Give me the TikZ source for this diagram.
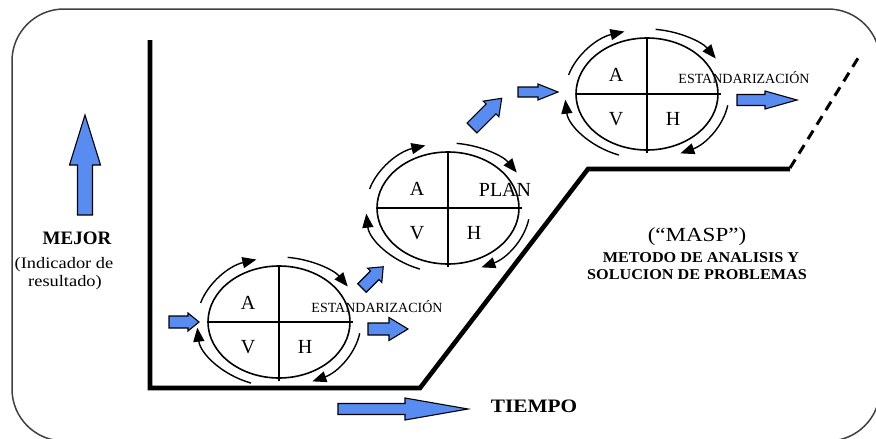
\documentclass[tikz,border=0pt]{standalone}
\usepackage{fontspec}
\setmainfont{Liberation Serif}
\usepackage{graphicx}
\usetikzlibrary{arrows.meta}
\definecolor{arrowblue}{RGB}{88,140,240}
\tikzset{
  frame/.style={draw=black!75, line width=1.5pt, rounded corners=52pt},
  axisline/.style={line width=4.6pt, line join=miter},
  futureline/.style={line width=3pt, dash pattern=on 10pt off 7pt},
  ring/.style={line width=1.6pt},
  crossline/.style={line width=2.2pt},
  turn/.style={line width=1.4pt, -{Triangle[length=14pt,width=11pt]}},
  blockarrow/.style={fill=arrowblue, draw=black, line width=1.1pt, line join=miter},
  cyclabel/.style={font=\fontsize{20}{21}\selectfont, inner sep=0pt},
  stdlabel/.style={font=\fontsize{14}{16}\selectfont, inner sep=0pt, anchor=base},
  boldtitle/.style={font=\bfseries\fontsize{19}{22}\selectfont, inner sep=0pt},
  note/.style={font=\fontsize{16}{18}\selectfont, inner sep=0pt},
  methodtext/.style={font=\bfseries\fontsize{15}{17}\selectfont, inner sep=0pt},
}
% one PDCA wheel: #1 centre coordinate, #2 node-name prefix
\newcommand\pdcawheel[2]{%
  \begin{scope}[shift={(#1)}]
    \draw[ring] (0,0) ellipse[x radius=71, y radius=56];
    \draw[crossline] (-71,0) -- (74,0);
    \draw[crossline] (0,-57) -- (0,59);
    \foreach \a/\b in {-163/-106,-84/-33,10/66,110/175}
      \draw[turn] (\a:82 and 65) arc[start angle=\a, end angle=\b, x radius=82, y radius=65];
    \node[cyclabel] (#2A) at (-31,-19) {A};
    \node[cyclabel] (#2V) at (-31,25) {V};
    \node[cyclabel] (#2H) at (26,25) {H};
  \end{scope}}
% block arrow: #1 tail, #2 angle, #3 length, #4 half shaft, #5 half head, #6 head length
\newcommand\blockarrow[6]{%
  \draw[blockarrow, shift={(#1)}, rotate=#2]
    (0,-#4) -- ({#3-#6},-#4) -- ({#3-#6},-#5) -- (#3,0) -- ({#3-#6},#5)
    -- ({#3-#6},#4) -- (0,#4) -- cycle;}

\begin{document}
\begin{tikzpicture}[x=1pt,y=-1pt]
  \useasboundingbox (0,0) rectangle (876,439);
  \draw[frame] (12,9) rectangle (880,441);

  % axes and improvement staircase
  \draw[axisline] (150,40) -- (150,388) -- (420,388) -- (588,169) -- (790,169);
  \draw[futureline] (790,168) -- (860,55);

  % wheels
  \coordinate (c1) at (279,322);
  \coordinate (c2) at (448,208);
  \coordinate (c3) at (647,94);
  \pdcawheel{c1}{w1}
  \pdcawheel{c2}{w2}
  \pdcawheel{c3}{w3}

  \node[stdlabel] (std1) at (377,312) {ESTANDARIZACIÓN};
  \node[cyclabel] (plan) at (505,190) {PLAN};
  \node[stdlabel] (std3) at (744,83) {ESTANDARIZACIÓN};

  % block arrows
  \blockarrow{169,322}{0}{30}{6}{9}{11}
  \blockarrow{368,329}{0}{40}{6}{11.5}{19}
  \blockarrow{362,288}{45}{30}{6}{10}{12}
  \blockarrow{472,128}{45}{42}{7}{11}{15}
  \blockarrow{518,92}{0}{40}{5}{8}{20}
  \blockarrow{737,100}{0}{60}{5.5}{9}{32}
  \blockarrow{338,409}{0}{130}{5.5}{11}{63}
  \blockarrow{85,215}{90}{100}{7.5}{15.5}{50}

  % texts
  \node[boldtitle] (mejor) at (77,238) {MEJOR};
  \node[note] (ind1) at (64,265) {\scalebox{1.15}[1]{(Indicador de}};
  \node[note] (ind2) at (65,283) {\scalebox{1.15}[1]{resultado)}};
  \node[boldtitle] (tiempo) at (534,406) {\scalebox{1.12}[1]{TIEMPO}};
  \node[font=\fontsize{20}{22}\selectfont, inner sep=0pt] (masp) at (697,237) {\scalebox{1.15}[1]{(“MASP”)}};
  \node[methodtext] (met1) at (701,258) {\scalebox{1.08}[1]{METODO DE ANALISIS Y}};
  \node[methodtext] (met2) at (697,275) {\scalebox{1.08}[1]{SOLUCION DE PROBLEMAS}};
\end{tikzpicture}
\end{document}
